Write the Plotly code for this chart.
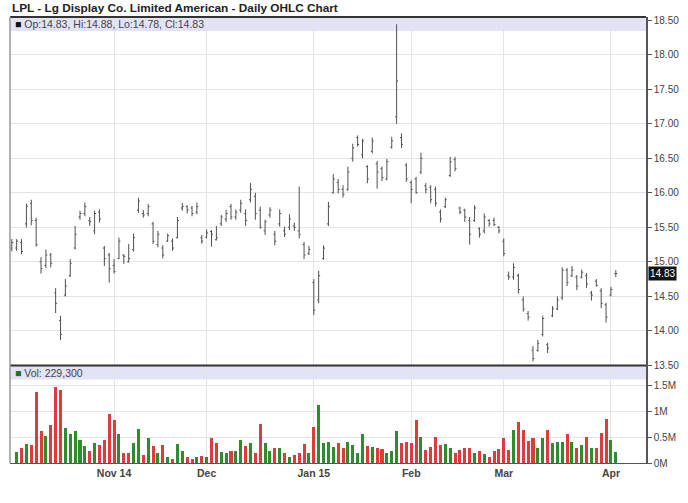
import pandas as pd
import plotly.graph_objects as go

# ---- data ----
holidays = ["2014-11-27", "2014-12-25", "2015-01-01", "2015-01-19", "2015-02-16"]
dates = [d for d in pd.bdate_range("2014-10-03", "2015-04-02") if d.strftime("%Y-%m-%d") not in holidays]

highs = [15.33, 15.33, 15.33, 15.84, 15.90, 15.64, 15.07, 15.18, 15.13, 14.62,
         14.22, 14.75, 15.04, 15.52, 15.74, 15.86, 15.65, 15.74, 15.76, 15.23,
         15.13, 15.04, 15.35, 15.11, 15.26, 15.41, 15.93, 15.75, 15.84, 15.58,
         15.45, 15.24, 15.41, 15.34, 15.65, 15.85, 15.82, 15.81, 15.86, 15.39,
         15.47, 15.46, 15.52, 15.68, 15.75, 15.84, 15.76, 15.90, 15.76, 16.14,
         16.00, 15.80, 15.61, 15.79, 15.45, 15.76, 15.51, 15.69, 15.57, 16.09,
         15.29, 15.23, 14.75, 14.87, 15.24, 15.87, 16.27, 16.20, 16.11, 16.38,
         16.71, 16.83, 16.78, 16.40, 16.80, 16.46, 16.38, 16.49, 16.81, 18.44,
         16.86, 16.43, 16.18, 16.23, 16.58, 16.14, 16.11, 16.09, 15.76, 15.93,
         16.52, 16.52, 15.80, 15.77, 15.65, 15.82, 15.50, 15.70, 15.62, 15.64,
         15.52, 15.34, 14.86, 14.98, 14.83, 14.50, 14.29, 13.78, 13.87, 14.22,
         13.83, 14.36, 14.50, 14.92, 14.91, 14.94, 14.81, 14.89, 14.84, 14.58,
         14.75, 14.62, 14.41, 14.64, 14.88]
lows = [15.15, 15.16, 15.11, 15.50, 15.53, 15.22, 14.83, 14.91, 14.92, 14.26,
        13.87, 14.50, 14.78, 15.18, 15.61, 15.66, 15.52, 15.40, 15.57, 14.94,
        14.70, 14.83, 15.04, 14.97, 14.99, 15.15, 15.71, 15.64, 15.66, 15.26,
        15.21, 15.05, 15.29, 15.16, 15.34, 15.74, 15.70, 15.66, 15.69, 15.26,
        15.34, 15.22, 15.31, 15.52, 15.58, 15.61, 15.61, 15.71, 15.52, 15.86,
        15.61, 15.48, 15.39, 15.64, 15.24, 15.51, 15.36, 15.46, 15.45, 15.34,
        15.04, 15.10, 14.23, 14.40, 15.03, 15.52, 15.99, 15.99, 15.93, 16.03,
        16.45, 16.67, 16.50, 16.14, 16.57, 16.06, 16.17, 16.18, 16.64, 17.00,
        16.65, 16.16, 15.85, 15.99, 16.27, 15.99, 15.85, 15.80, 15.57, 15.78,
        16.23, 16.31, 15.69, 15.58, 15.25, 15.58, 15.35, 15.41, 15.51, 15.52,
        15.41, 15.08, 14.74, 14.74, 14.54, 14.28, 14.15, 13.56, 13.70, 13.92,
        13.68, 14.20, 14.30, 14.45, 14.65, 14.78, 14.59, 14.76, 14.62, 14.44,
        14.64, 14.33, 14.12, 14.50, 14.78]
opens = [15.20, 15.20, 15.28, 15.55, 15.85, 15.60, 15.00, 14.95, 15.10, 14.55,
         14.15, 14.52, 14.80, 15.20, 15.65, 15.70, 15.60, 15.45, 15.72, 15.20,
         15.10, 14.95, 15.05, 15.10, 15.00, 15.18, 15.75, 15.70, 15.70, 15.55,
         15.25, 15.20, 15.30, 15.30, 15.35, 15.78, 15.80, 15.78, 15.72, 15.35,
         15.36, 15.44, 15.32, 15.55, 15.62, 15.80, 15.65, 15.75, 15.70, 15.90,
         15.95, 15.75, 15.45, 15.68, 15.40, 15.55, 15.45, 15.50, 15.52, 15.45,
         15.25, 15.12, 14.70, 14.45, 15.05, 15.55, 16.00, 16.15, 16.05, 16.05,
         16.50, 16.80, 16.55, 16.38, 16.60, 16.42, 16.35, 16.20, 16.66, 17.10,
         16.80, 16.40, 16.15, 16.20, 16.30, 16.10, 16.08, 16.05, 15.72, 15.80,
         16.25, 16.48, 15.78, 15.75, 15.60, 15.60, 15.48, 15.45, 15.60, 15.60,
         15.50, 15.30, 14.80, 14.78, 14.80, 14.45, 14.25, 13.72, 13.72, 13.95,
         13.80, 14.22, 14.32, 14.48, 14.88, 14.80, 14.78, 14.78, 14.80, 14.55,
         14.72, 14.58, 14.38, 14.52, 14.83]
closes = [15.28, 15.30, 15.15, 15.80, 15.60, 15.25, 14.90, 15.10, 14.98, 14.40,
          13.95, 14.65, 14.98, 15.40, 15.70, 15.80, 15.58, 15.70, 15.62, 15.05,
          14.90, 14.86, 15.30, 15.08, 15.05, 15.35, 15.88, 15.68, 15.80, 15.30,
          15.40, 15.10, 15.38, 15.20, 15.60, 15.80, 15.75, 15.70, 15.80, 15.30,
          15.42, 15.40, 15.35, 15.65, 15.70, 15.65, 15.72, 15.85, 15.60, 16.05,
          15.70, 15.50, 15.58, 15.75, 15.30, 15.70, 15.40, 15.62, 15.50, 15.40,
          15.10, 15.18, 14.30, 14.80, 15.20, 15.80, 16.20, 16.05, 15.98, 16.30,
          16.65, 16.70, 16.75, 16.20, 16.75, 16.30, 16.22, 16.45, 16.75, 17.62,
          16.70, 16.20, 16.05, 16.00, 16.50, 16.05, 15.90, 15.85, 15.62, 15.90,
          16.45, 16.35, 15.72, 15.65, 15.40, 15.78, 15.40, 15.65, 15.55, 15.54,
          15.45, 15.12, 14.78, 14.92, 14.60, 14.32, 14.20, 13.60, 13.82, 14.18,
          13.75, 14.32, 14.45, 14.88, 14.70, 14.88, 14.65, 14.85, 14.68, 14.52,
          14.66, 14.40, 14.20, 14.60, 14.83]
# volume in millions (first session has no visible volume bar)
volumes = [None, 0.22, 0.30, 0.38, 0.35, 1.37, 0.62, 0.52, 0.74, 1.48,
           1.42, 0.68, 0.56, 0.62, 0.46, 0.33, 0.24, 0.40, 0.35, 0.46,
           0.95, 0.84, 0.56, 0.20, 0.20, 0.40, 0.67, 0.16, 0.50, 0.33,
           0.20, 0.35, 0.13, 0.09, 0.37, 0.24, 0.12, 0.09, 0.13, 0.15,
           0.13, 0.50, 0.40, 0.22, 0.20, 0.24, 0.24, 0.46, 0.33, 0.40,
           0.20, 0.76, 0.40, 0.24, 0.29, 0.30, 0.21, 0.12, 0.17, 0.21,
           0.38, 0.20, 0.71, 1.12, 0.40, 0.42, 0.31, 0.40, 0.30, 0.42,
           0.35, 0.21, 0.56, 0.33, 0.31, 0.29, 0.28, 0.20, 0.24, 0.62,
           0.40, 0.42, 0.39, 0.84, 0.51, 0.26, 0.31, 0.51, 0.35, 0.37,
           0.29, 0.21, 0.26, 0.30, 0.30, 0.21, 0.24, 0.19, 0.12, 0.24,
           0.27, 0.50, 0.26, 0.65, 0.79, 0.65, 0.44, 0.50, 0.30, 0.50,
           0.65, 0.40, 0.42, 0.42, 0.56, 0.42, 0.30, 0.35, 0.51, 0.30,
           0.30, 0.59, 0.86, 0.46, 0.2293]
# 1 = up day (green volume), 0 = down day (red volume)
up_day = [1, 1, 0, 1, 0, 0, 0, 1, 0, 0,
          0, 1, 1, 1, 1, 1, 0, 1, 0, 0,
          0, 0, 1, 0, 0, 1, 1, 0, 1, 0,
          1, 0, 1, 0, 1, 1, 0, 0, 1, 0,
          1, 0, 0, 1, 1, 0, 1, 1, 0, 1,
          0, 0, 1, 1, 0, 1, 0, 1, 0, 0,
          0, 1, 0, 1, 1, 1, 1, 0, 0, 1,
          1, 1, 1, 0, 1, 0, 0, 1, 1, 1,
          0, 0, 0, 0, 1, 0, 0, 0, 0, 1,
          1, 0, 0, 0, 0, 1, 0, 1, 0, 0,
          0, 0, 0, 1, 0, 0, 0, 0, 1, 1,
          0, 1, 1, 1, 0, 1, 0, 1, 0, 1,
          0, 0, 0, 1, 1]
month_labels = ["Nov 14", "Dec", "Jan 15", "Feb", "Mar", "Apr"]
price_ticks = [13.5, 14.0, 14.5, 15.0, 15.5, 16.0, 16.5, 17.0, 17.5, 18.0, 18.5]
vol_ticks = [0, 0.5, 1.0, 1.5]
vol_tick_labels = ["0M", "0.5M", "1M", "1.5M"]
title_text = "LPL - Lg Display Co. Limited American - Daily OHLC Chart"

# ---- build ----
idx = list(range(len(dates)))
month_starts = []
for i, d in enumerate(dates):
    if i > 0 and d.month != dates[i - 1].month:
        month_starts.append(i)

vol_x = [i for i in idx if volumes[i] is not None]
vol_y = [volumes[i] * 1e6 for i in vol_x]
vol_col = ["#2e8b2e" if up_day[i] else "#e03a3a" for i in vol_x]

W, H = 688, 503
L, R, T, B = 10, 42, 17, 40
ph = H - T - B
split = (463 - 365.5) / ph

fig = go.Figure()
fig.add_trace(go.Ohlc(
    x=idx, open=opens, high=highs, low=lows, close=closes,
    xaxis="x2", yaxis="y",
    increasing=dict(line=dict(color="#505050", width=1)),
    decreasing=dict(line=dict(color="#505050", width=1)),
    tickwidth=0.3, hoverinfo="skip", showlegend=False))
fig.add_trace(go.Bar(
    x=vol_x, y=vol_y, marker=dict(color=vol_col, line=dict(width=0)),
    width=0.62, xaxis="x", yaxis="y2", hoverinfo="skip", showlegend=False))

xr = [-0.37, 130.2]
grid = "#e4e4e4"
tickfont = dict(family="Liberation Sans, Arial, sans-serif", size=10, color="#444")

fig.update_layout(
    width=W, height=H, margin=dict(l=L, r=R, t=T, b=B),
    paper_bgcolor="white", plot_bgcolor="white",
    xaxis=dict(domain=[0, 1], anchor="y2", range=xr, tickmode="array",
               tickvals=month_starts, ticktext=month_labels, showgrid=True,
               gridcolor=grid, gridwidth=1, zeroline=False, ticks="",
               showline=True, linecolor="#555", linewidth=1,
               tickfont=dict(family="Liberation Sans, Arial, sans-serif", size=10.5, color="#444", weight="bold"),
               rangeslider=dict(visible=False)),
    xaxis2=dict(domain=[0, 1], anchor="y", matches="x", range=xr, tickmode="array",
                tickvals=month_starts, showticklabels=False, showgrid=True,
                gridcolor=grid, zeroline=False, ticks="",
                rangeslider=dict(visible=False)),
    yaxis=dict(domain=[split, 1], anchor="x2", side="right", range=[13.5, 18.545],
               tickmode="array", tickvals=price_ticks, tickformat=".2f",
               showgrid=True, gridcolor=grid, zeroline=False,
               ticks="outside", ticklen=4, tickcolor="#555",
               showline=True, linecolor="#555", linewidth=1.5, tickfont=tickfont),
    yaxis2=dict(domain=[0, split], anchor="x", side="right", range=[0, 1.875e6],
                tickmode="array", tickvals=[v * 1e6 for v in vol_ticks],
                ticktext=vol_tick_labels, showgrid=True, gridcolor=grid,
                zeroline=False, ticks="outside", ticklen=4, tickcolor="#555",
                showline=True, linecolor="#555", linewidth=1.5, tickfont=tickfont),
    bargap=0,
)

band = "#e3e3f7"
shapes = [
    dict(type="rect", xref="paper", yref="paper", x0=0, x1=1,
         y0=1 - 14 / ph, y1=1, fillcolor=band, line=dict(width=0), layer="below"),
    dict(type="rect", xref="paper", yref="paper", x0=0, x1=1,
         y0=split - 14 / ph, y1=split, fillcolor=band, line=dict(width=0), layer="below"),
    dict(type="line", xref="paper", yref="paper", x0=0, x1=1, y0=1, y1=1,
         line=dict(color="#333", width=2)),
    dict(type="line", xref="paper", yref="paper", x0=0, x1=1, y0=split, y1=split,
         line=dict(color="#333", width=2)),
    dict(type="line", xref="paper", yref="paper", x0=0, x1=0, y0=0, y1=1,
         line=dict(color="#999", width=1.5)),
]
fig.update_layout(shapes=shapes)

last = len(idx) - 1
legend_price = "<span style='color:#111'>■</span> Op:%.2f, Hi:%.2f, Lo:%.2f, Cl:%.2f" % (
    opens[last], highs[last], lows[last], closes[last])
legend_vol = "<span style='color:#1f6f1f'>■</span> Vol: {:,}".format(int(round(volumes[last] * 1e6)))

anns = [
    dict(text="<b>" + title_text + "</b>", xref="paper", yref="paper", x=0, y=1 + 9 / ph,
         xanchor="left", yanchor="middle", showarrow=False,
         font=dict(family="Liberation Sans, Arial, sans-serif", size=11.8, color="#222")),
    dict(text=legend_price, xref="paper", yref="paper", x=0, xshift=3, y=1 - 7 / ph,
         xanchor="left", yanchor="middle", showarrow=False,
         font=dict(family="Liberation Sans, Arial, sans-serif", size=10.5, color="#444")),
    dict(text=legend_vol, xref="paper", yref="paper", x=0, xshift=3, y=split - 7 / ph,
         xanchor="left", yanchor="middle", showarrow=False,
         font=dict(family="Liberation Sans, Arial, sans-serif", size=10.5, color="#444")),
    dict(text="%.2f" % closes[last], xref="paper", yref="y", x=1, xshift=2, y=closes[last],
         xanchor="left", yanchor="middle", showarrow=False, bgcolor="#111",
         borderpad=1, font=dict(family="Liberation Sans, Arial, sans-serif", size=10, color="white")),
]
fig.update_layout(annotations=anns)

fig.write_html("out.html", config={"displayModeBar": False},
               post_script="document.body.style.margin='0';document.body.style.overflow='hidden';")
